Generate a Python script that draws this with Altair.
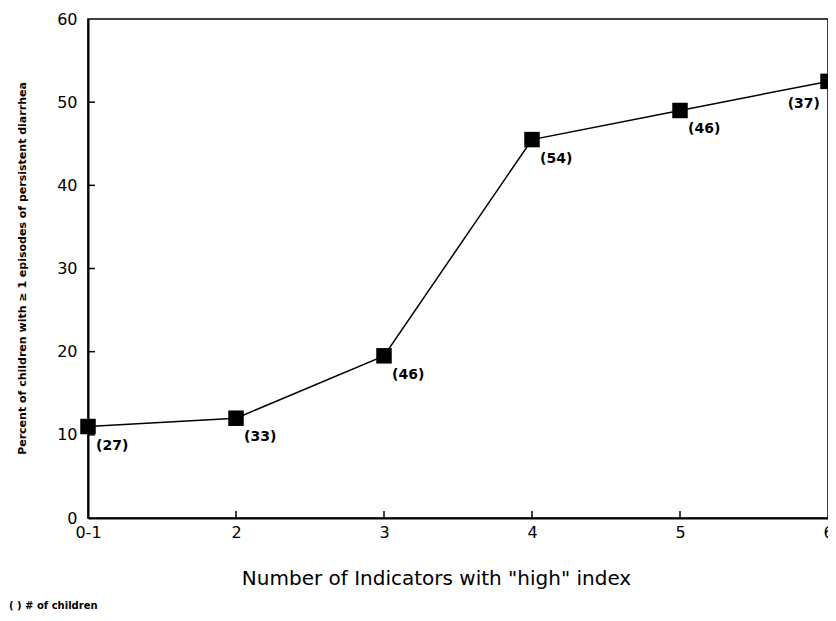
import altair as alt
import pandas as pd

categories = ["0-1", "2", "3", "4", "5", "6"]
percent = [11, 12, 19.5, 45.5, 49, 52.5]
n_children = [27, 33, 46, 54, 46, 37]
y_tick_values = [0, 10, 20, 30, 40, 50, 60]
inner_y_ticks = [10, 20, 30, 40, 50]
inner_x_ticks = ["2", "3", "4", "5"]
footnote = "( ) # of children"

FONT = "DejaVu Sans"

df = pd.DataFrame({
    "cat": categories,
    "pct": percent,
    "lab": [f"({n})" for n in n_children],
})

x_scale = alt.Scale(type="point", domain=categories, padding=0)
y_scale = alt.Scale(domain=[0, 60], nice=False)

x_enc = alt.X(
    "cat:N", scale=x_scale, sort=None,
    axis=alt.Axis(
        title='Number of Indicators with "high" index',
        labelAngle=0, ticks=False, tickSize=0, labelPadding=14,
        labelAlign="center", labelFlush=False, labelOverlap=False,
        labelFontSize=16, labelFont=FONT, labelColor="black",
        domainColor="black", domainWidth=2, grid=False,
        titleFont=FONT, titleFontSize=20, titleFontWeight="normal",
        titleColor="black", titleX=348, titleY=60, titleBaseline="middle",
        titleAlign="center",
    ),
)
y_enc = alt.Y(
    "pct:Q", scale=y_scale,
    axis=alt.Axis(
        title="Percent of children with \u2265 1 episodes of persistent diarrhea",
        values=y_tick_values, ticks=False, tickSize=0, labelPadding=11,
        labelFlush=False,
        labelFontSize=16, labelFont=FONT, labelColor="black",
        domainColor="black", domainWidth=2, grid=False,
        titleFont=FONT, titleFontSize=11, titleFontWeight="bold",
        titleColor="black", titleX=-66, titleY=249, titleAngle=270,
        titleBaseline="middle", titleAlign="center",
    ),
)

base = alt.Chart(df)

line = base.mark_line(color="black", strokeWidth=1.5).encode(x=x_enc, y=y_enc)
squares = base.mark_point(shape="square", filled=True, color="black",
                          size=240, opacity=1).encode(x=x_enc, y=y_enc)

labels_main = base.transform_filter("datum.cat != '6'").mark_text(
    align="left", baseline="middle", dx=8, dy=19, font=FONT,
    fontSize=14, fontWeight="bold", color="black",
).encode(x=alt.X("cat:N", scale=x_scale, sort=None),
         y=alt.Y("pct:Q", scale=y_scale), text="lab:N")

labels_last = base.transform_filter("datum.cat == '6'").mark_text(
    align="right", baseline="middle", dx=-8, dy=23, font=FONT,
    fontSize=14, fontWeight="bold", color="black",
).encode(x=alt.X("cat:N", scale=x_scale, sort=None),
         y=alt.Y("pct:Q", scale=y_scale), text="lab:N")

yt = alt.Chart(pd.DataFrame({"v": inner_y_ticks})).mark_rule(
    color="black", strokeWidth=1.5
).encode(y=alt.Y("v:Q", scale=y_scale), x=alt.value(0), x2=alt.value(7))

xt = alt.Chart(pd.DataFrame({"c": inner_x_ticks})).mark_rule(
    color="black", strokeWidth=1.5
).encode(x=alt.X("c:N", scale=x_scale, sort=None), y=alt.value(499), y2=alt.value(492))

note = alt.Chart(pd.DataFrame({"t": [footnote]})).mark_text(
    align="left", baseline="middle", font=FONT, fontSize=10,
    fontWeight="bold", color="black",
).encode(text="t:N", x=alt.value(-79), y=alt.value(587))

chart = alt.layer(yt, xt, line, squares, labels_main, labels_last, note).properties(
    width=740, height=499,
    autosize=alt.AutoSizeParams(type="none"),
    padding={"left": 80, "top": 11, "right": 0, "bottom": 95},
    background="white",
).configure_view(stroke="black", strokeWidth=1.5)

chart.save("out.html", embed_options={"renderer": "svg", "actions": False})
